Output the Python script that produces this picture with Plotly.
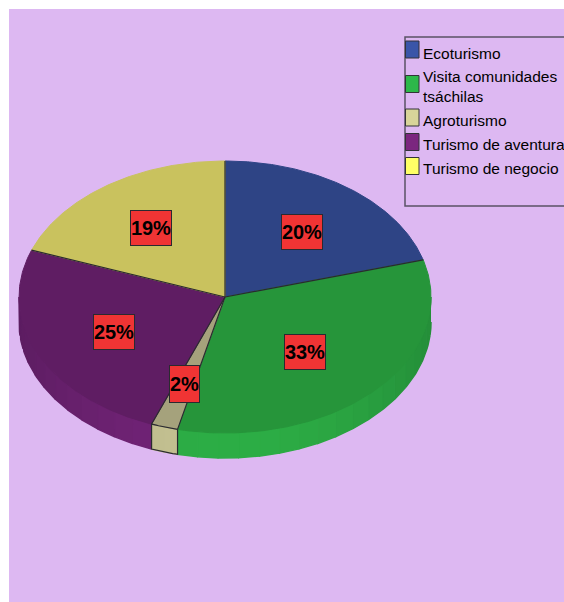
import numpy as np
import plotly.graph_objects as go

categories = ["Ecoturismo", "Visita comunidades<br>tsáchilas", "Agroturismo", "Turismo de aventura", "Turismo de negocio"]
shares = [20.6, 33.1, 2.1, 24.8, 19.4]
pie_labels = ["20%", "33%", "2%", "25%", "19%"]
top_colors = ["#2E4485", "#26953A", "#A5A27C", "#5F1D63", "#C9C25E"]
side_colors = ["#3A55A8", "#2DAE46", "#C5C292", "#722478", "#D8D27A"]
legend_colors = ["#3A55A8", "#2DB84A", "#D8D49A", "#7B267F", "#FFFF66"]
legend_rows = [53, 86, 120, 144, 168]
swatch_rows = [49.5, 84, 117.5, 142, 166]
label_radii = [0.6, 0.58, 0.66, 0.61, 0.6]
label_nudges = [(2, 0), (-6, 0), (-1, 1), (3, 1), (-3, -2)]

CX, CY, RX, RY, DEPTH = 225, 297, 206, 136, 25
BG = "#DDB8F2"
EDGE = "#2A2A30"
FONT = "Liberation Sans, Arial, sans-serif"


def ex(t):
    return CX + RX * np.sin(np.radians(t))


def ey(t):
    return CY - RY * np.cos(np.radians(t))


def mix(c, f):
    r, g, b = int(c[1:3], 16), int(c[3:5], 16), int(c[5:7], 16)
    return f"rgb({int(r*f)},{int(g*f)},{int(b*f)})"


bounds = np.concatenate([[0], np.cumsum(shares) / np.sum(shares) * 360])
fig = go.Figure()

# side wall, shaded in bands so it brightens towards the front
for i in range(len(shares)):
    a0, a1 = max(bounds[i], 90), min(bounds[i + 1], 270)
    if a1 <= a0:
        continue
    edges = np.linspace(a0, a1, max(2, int((a1 - a0) / 6) + 2))
    for s0, s1 in zip(edges[:-1], edges[1:]):
        t = np.linspace(s0, s1, 8)
        m = np.radians((s0 + s1) / 2)
        f = 0.82 + 0.18 * max(0, -np.cos(m)) ** 2
        col = mix(side_colors[i], f)
        fig.add_trace(go.Scatter(
            x=np.r_[ex(t), ex(t[::-1])],
            y=np.r_[ey(t), ey(t[::-1]) + DEPTH],
            fill="toself", mode="lines", fillcolor=col,
            line=dict(width=1.5, color=col),
            hoverinfo="skip", showlegend=False))

# top face
for i in range(len(shares)):
    t = np.linspace(bounds[i], bounds[i + 1], 120)
    fig.add_trace(go.Scatter(
        x=np.r_[CX, ex(t), CX], y=np.r_[CY, ey(t), CY],
        fill="toself", mode="lines", fillcolor=top_colors[i],
        line=dict(width=1, color=top_colors[i]),
        name=categories[i].replace("<br>", " "), showlegend=False,
        hoverinfo="name"))

# radial edges
for b in bounds[:-1]:
    fig.add_trace(go.Scatter(x=[CX, ex(b)], y=[CY, ey(b)], mode="lines",
                             line=dict(width=1.2, color=EDGE),
                             hoverinfo="skip", showlegend=False))

# outline of the small slice's wall
i = 2
t = np.linspace(bounds[i], bounds[i + 1], 12)
fig.add_trace(go.Scatter(
    x=np.r_[ex(t), ex(t[::-1]), ex(t[0])],
    y=np.r_[ey(t), ey(t[::-1]) + DEPTH, ey(t[0])],
    mode="lines", line=dict(width=1.2, color=EDGE),
    hoverinfo="skip", showlegend=False))

shapes = [
    dict(type="rect", xref="x", yref="y", x0=9, x1=564, y0=9, y1=602,
         fillcolor=BG, line_width=0, layer="below"),
    dict(type="rect", xref="x", yref="y", x0=405, x1=570, y0=37, y1=206,
         fillcolor="rgba(0,0,0,0)", line=dict(color="#5A5266", width=1.5), layer="below"),
]
annotations = []
for i, (name, col) in enumerate(zip(categories, legend_colors)):
    shapes.append(dict(type="rect", xref="x", yref="y",
                       x0=405.5, x1=419, y0=swatch_rows[i] - 8.5, y1=swatch_rows[i] + 8.5,
                       fillcolor=col, line=dict(color="#333338", width=1)))
    annotations.append(dict(x=420.5, y=legend_rows[i], xref="x", yref="y", text=name,
                            showarrow=False, xanchor="left", yanchor="middle", align="left",
                            font=dict(family=FONT, size=15.5, color="#000000")))

for i, lab in enumerate(pie_labels):
    m = (bounds[i] + bounds[i + 1]) / 2
    rm = np.radians(m)
    annotations.append(dict(
        x=CX + label_radii[i] * RX * np.sin(rm) + label_nudges[i][0],
        y=CY - label_radii[i] * RY * np.cos(rm) + label_nudges[i][1],
        xref="x", yref="y", text=f"<b>{lab}</b>", showarrow=False,
        font=dict(family=FONT, size=20, color="#000000"),
        bgcolor="#F03434", bordercolor="#2A2A30", borderwidth=1,
        width=29 if lab == "2%" else 40, height=36 if lab == "2%" else 34,
        borderpad=0))

fig.update_layout(
    width=564, height=602, margin=dict(l=0, r=0, t=0, b=0),
    paper_bgcolor="white", plot_bgcolor="white",
    showlegend=False, shapes=shapes, annotations=annotations,
    xaxis=dict(range=[0, 564], visible=False, fixedrange=True),
    yaxis=dict(range=[602, 0], visible=False, fixedrange=True),
)
fig.write_html("out.html", config=dict(displayModeBar=False),
               post_script="document.body.style.margin='0';document.documentElement.style.overflow='hidden';")
